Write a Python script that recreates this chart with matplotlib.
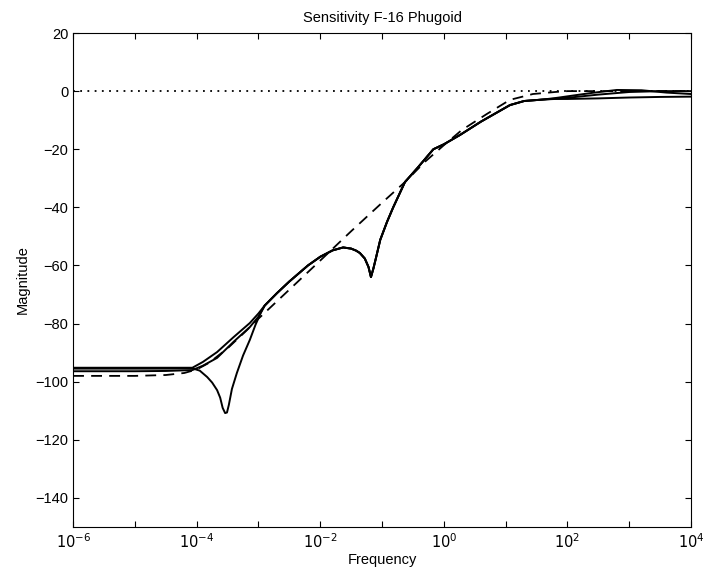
import matplotlib
matplotlib.use('Agg')
import matplotlib.pyplot as plt
import numpy as np

plt.rcParams['font.family'] = ['Liberation Sans', 'DejaVu Sans']

# frequencies are given as log10 values, magnitudes in dB
# reference line at 0
ref_logw = [-6, 4]
ref_mag = [0, 0]

# dashed curve
dash_logw = [-6, -5, -4.5, -4.2, -4.0, -3.8, -3.5, -3.2, -3.0, -2.5, -2.0, -1.5,
             -1.0, -0.63, -0.3, 0.0, 0.29, 0.7, 1.07, 1.44, 1.8, 2.0, 3.0, 4.0]
dash_mag = [-98, -98, -97.7, -97, -95.8, -93.5, -88.5, -82.5, -78.3, -68.3, -58.3, -48.2,
            -38.4, -31.3, -24.2, -18.6, -13.4, -7.8, -3.0, -1.0, -0.3, 0, 0, 0]

# shared middle part of the solid curves (after they merge near 1e-3)
mid_logw = [-2.9, -2.7, -2.5, -2.2, -2.0, -1.8, -1.63, -1.5, -1.42, -1.36, -1.28, -1.22, -1.18,
            -1.14, -1.1, -1.03, -0.92, -0.82, -0.63, -0.43, -0.17, 0.0, 0.26, 0.6, 1.07, 1.3, 1.6]
mid_mag = [-73.8, -69.5, -65.5, -60.0, -57.0, -54.8, -53.8, -54.2, -54.9, -55.7, -57.6, -60.5, -64.0,
           -61.0, -57.5, -51.2, -45.0, -40.0, -31.3, -26.5, -20.0, -18.3, -15.1, -10.5, -4.8, -3.4, -2.9]

# solid curve with the dip near 3e-4
dip_logw = [-6, -5, -4.5, -4.07, -3.95, -3.83, -3.75, -3.67, -3.62, -3.58, -3.54, -3.51,
            -3.48, -3.43, -3.35, -3.25, -3.14, -3.05, -2.97]
dip_mag = [-95.5, -95.5, -95.5, -95.4, -96.2, -98.4, -100.3, -102.9, -105.5, -109.0, -110.8, -110.6,
           -108.0, -102.5, -97.0, -91.0, -85.6, -80.5, -76.6]
dip_end_logw = [1.8, 2.0, 2.5, 3.0, 3.5, 4.0]
dip_end_mag = [-2.6, -2.3, -1.2, -0.3, 0.0, 0.0]

# upper rising solid curve
up_logw = [-6, -5, -4.5, -4.07, -3.9, -3.67, -3.4, -3.14, -3.0]
up_mag = [-95.2, -95.2, -95.2, -95.2, -93.2, -89.8, -84.6, -79.8, -76.5]
up_end_logw = [1.8, 2.0, 2.4, 2.8, 3.2, 3.6, 4.0]
up_end_mag = [-2.4, -1.8, -0.6, 0.4, 0.3, -0.5, -1.0]

# middle rising solid curve
md_logw = [-6, -5, -4.5, -4.07, -3.9, -3.67, -3.4, -3.14, -3.0]
md_mag = [-96.4, -96.4, -96.3, -96.0, -94.5, -91.8, -86.2, -81.2, -77.6]
md_end_logw = [1.8, 2.0, 2.5, 3.0, 3.5, 4.0]
md_end_mag = [-2.7, -2.7, -2.5, -2.2, -2.0, -1.9]


def w(logs):
    return 10.0 ** np.asarray(logs, dtype=float)


fig = plt.figure(figsize=(7.03, 5.75), dpi=100)
ax = fig.add_axes([0.104, 0.0835, 0.879, 0.8591])

ax.plot(w(ref_logw), ref_mag, color='black', linestyle=(0, (1, 3)), lw=1.3)
ax.plot(w(dash_logw), dash_mag, color='black', linestyle=(0, (6, 4)), lw=1.3)

for start_w, start_m, end_w, end_m in [(dip_logw, dip_mag, dip_end_logw, dip_end_mag),
                                       (up_logw, up_mag, up_end_logw, up_end_mag),
                                       (md_logw, md_mag, md_end_logw, md_end_mag)]:
    xs = list(start_w) + mid_logw + list(end_w)
    ys = list(start_m) + mid_mag + list(end_m)
    ax.plot(w(xs), ys, color='black', lw=1.4, solid_joinstyle='round')

ax.set_xscale('log')
ax.set_xlim(1e-6, 1e4)
ax.set_ylim(-150, 20)

xt = [10.0 ** k for k in range(-6, 5)]
ax.set_xticks(xt)
ax.set_xticklabels([r'$10^{%d}$' % k if k % 2 == 0 else '' for k in range(-6, 5)])
ax.minorticks_off()
ax.set_yticks(np.arange(-140, 21, 20))

ax.tick_params(direction='in', top=True, right=True, labelsize=10.5, length=4)
ax.set_xlabel('Frequency', fontsize=10.5, labelpad=2)
ax.set_ylabel('Magnitude', fontsize=10.5)
ax.set_title('Sensitivity F-16 Phugoid', fontsize=10.5, pad=8)

fig.savefig('out.png', dpi=100)
